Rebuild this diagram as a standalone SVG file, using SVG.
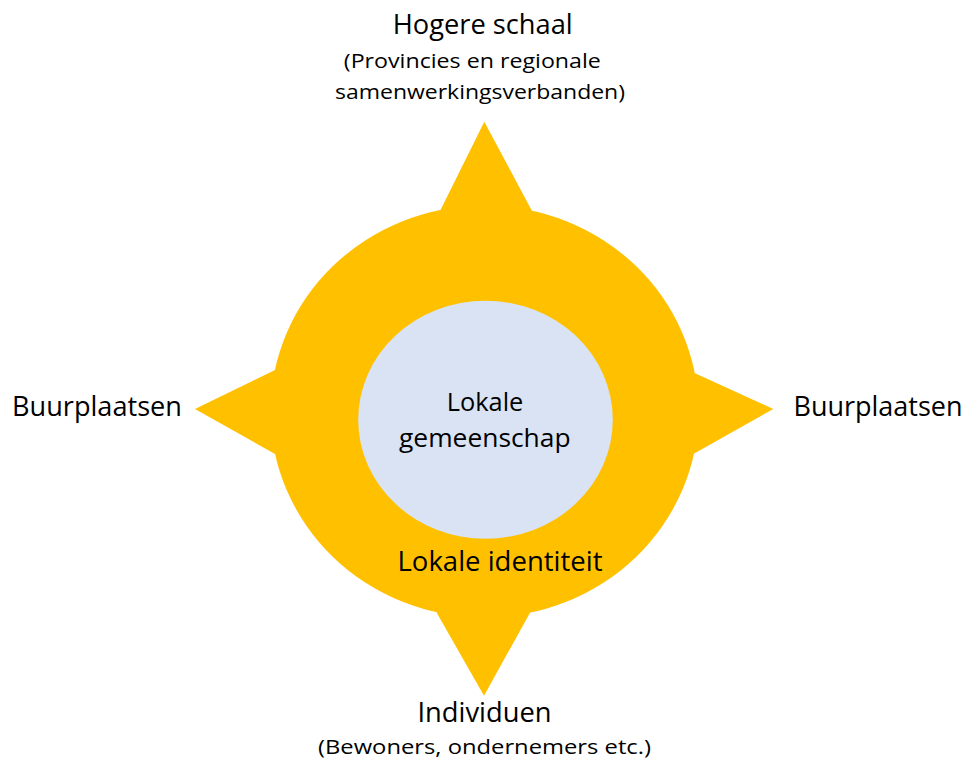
<svg xmlns="http://www.w3.org/2000/svg" width="968" height="762" viewBox="0 0 968 762">
  <style>
    .t { font-family: "Open Sans", "Noto Sans", "Liberation Sans", sans-serif; fill: #000000; text-anchor: middle; }
    .big { font-size: 28px; }
    .sub { font-size: 20.5px; }
    .mid { font-size: 25px; }
    .gold { fill: #FFC000; }
  </style>
  <rect width="968" height="762" fill="#FFFFFF"/>
  <g id="ring">
    <ellipse class="gold" cx="484.5" cy="411.5" rx="214" ry="206"/>
    <polygon class="gold" points="484.3,121.7 532,211 484,300 440,211"/>
    <polygon class="gold" points="484,695.7 530,612.7 484,520 436.7,612.7"/>
    <polygon class="gold" points="195,409 275,370 360,412 275,454"/>
    <polygon class="gold" points="773.3,409 695,373.3 610,412 693.3,454"/>
    <text class="t big" x="500" y="570.7" textLength="205" lengthAdjust="spacingAndGlyphs">Lokale identiteit</text>
  </g>
  <g id="center">
    <ellipse cx="485.5" cy="419.7" rx="127.3" ry="119" fill="#DAE3F3"/>
    <text class="t mid" x="485" y="410.7" textLength="76.6" lengthAdjust="spacingAndGlyphs">Lokale</text>
    <text class="t mid" x="484.8" y="446.7" textLength="171.6" lengthAdjust="spacingAndGlyphs">gemeenschap</text>
  </g>
  <g id="top">
    <text class="t big" x="482.7" y="34.3" textLength="180" lengthAdjust="spacingAndGlyphs">Hogere schaal</text>
    <text class="t sub" x="472.3" y="67.7" textLength="257" lengthAdjust="spacingAndGlyphs">(Provincies en regionale</text>
    <text class="t sub" x="480" y="99.3" textLength="290" lengthAdjust="spacingAndGlyphs">samenwerkingsverbanden)</text>
  </g>
  <g id="left">
    <text class="t big" x="97" y="416" textLength="170" lengthAdjust="spacingAndGlyphs">Buurplaatsen</text>
  </g>
  <g id="right">
    <text class="t big" x="878" y="416" textLength="169" lengthAdjust="spacingAndGlyphs">Buurplaatsen</text>
  </g>
  <g id="bottom">
    <text class="t big" x="484.5" y="721.7" textLength="134" lengthAdjust="spacingAndGlyphs">Individuen</text>
    <text class="t sub" x="484.5" y="754" textLength="333" lengthAdjust="spacingAndGlyphs">(Bewoners, ondernemers etc.)</text>
  </g>
  <g id="connectors"/>
</svg>
